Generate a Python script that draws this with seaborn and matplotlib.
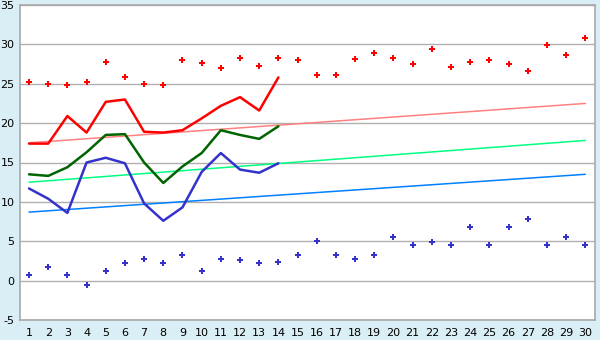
import numpy as np
import pandas as pd
import matplotlib
matplotlib.use("Agg")
import matplotlib.pyplot as plt
import seaborn as sns

# ---- data ----
days = list(range(1, 31))
record_high = [25.2, 25.0, 24.9, 25.2, 27.8, 25.8, 25.0, 24.9, 28.0, 27.6,
               27.0, 28.3, 27.3, 28.3, 28.0, 26.1, 26.1, 28.1, 28.9, 28.3,
               27.5, 29.4, 27.1, 27.8, 28.0, 27.5, 26.6, 29.9, 28.7, 30.8]
record_low = [0.7, 1.7, 0.7, -0.6, 1.2, 2.2, 2.8, 2.2, 3.3, 1.2,
              2.8, 2.6, 2.2, 2.4, 3.3, 5.0, 3.3, 2.8, 3.3, 5.6,
              4.5, 4.9, 4.5, 6.8, 4.5, 6.8, 7.8, 4.5, 5.6, 4.5]
obs_days = list(range(1, 15))
obs_max = [17.4, 17.4, 20.9, 18.8, 22.7, 23.0, 18.9, 18.8, 19.1, 20.6,
           22.2, 23.3, 21.6, 25.8]
obs_mean = [13.5, 13.3, 14.4, 16.3, 18.5, 18.6, 15.0, 12.4, 14.5, 16.2,
            19.1, 18.5, 18.0, 19.6]
obs_min = [11.7, 10.4, 8.6, 15.0, 15.6, 14.9, 9.8, 7.6, 9.3, 13.8,
           16.2, 14.1, 13.7, 14.9]
trend_days = [1, 30]
trend_max = [17.5, 22.5]
trend_mean = [12.5, 17.8]
trend_min = [8.7, 13.5]
y_ticks = [-5, 0, 5, 10, 15, 20, 25, 30, 35]

sns.set_theme(style="white")
plt.rcParams['font.family'] = ['DejaVu Sans']

fig = plt.figure(figsize=(6, 3.4), dpi=100, facecolor="#DAEEF5")
ax = fig.add_axes([20/600, 1-320/340, (595.3-20)/600, 315/340])
ax.set_facecolor("white")

trend = pd.DataFrame({"day": trend_days, "tmax": trend_max,
                      "tmean": trend_mean, "tmin": trend_min})
sns.lineplot(data=trend, x="day", y="tmax", color="#FF8080", lw=1.1, ax=ax)
sns.lineplot(data=trend, x="day", y="tmean", color="#00FF80", lw=1.1, ax=ax)
sns.lineplot(data=trend, x="day", y="tmin", color="#0080FF", lw=1.1, ax=ax)

obs = pd.DataFrame({"day": obs_days, "max": obs_max, "mean": obs_mean, "min": obs_min})
sns.lineplot(data=obs, x="day", y="max", color="#FF0000", lw=1.8, ax=ax)
sns.lineplot(data=obs, x="day", y="mean", color="#006400", lw=1.8, ax=ax)
sns.lineplot(data=obs, x="day", y="min", color="#3333CC", lw=1.8, ax=ax)

rec = pd.DataFrame({"day": days, "hi": record_high, "lo": record_low})
sns.scatterplot(data=rec, x="day", y="hi", color="#FF0000", marker="P",
                s=18, linewidth=0, ax=ax, zorder=5)
sns.scatterplot(data=rec, x="day", y="lo", color="#3333CC", marker="P",
                s=18, linewidth=0, ax=ax, zorder=5)

ax.set_xlim(0.53, 30.52)
ax.set_ylim(-5, 35)
ax.set_xticks(days)
ax.set_xticklabels([str(d) for d in days])
ax.set_yticks(y_ticks)
ax.set_yticklabels([str(v) for v in y_ticks])
ax.yaxis.grid(True, color="#B0B0B0", lw=1)
ax.xaxis.grid(False)
ax.set_axisbelow(True)
ax.set_xlabel("")
ax.set_ylabel("")
for s in ax.spines.values():
    s.set_color("#A8A8A8")
    s.set_linewidth(1.2)
ax.tick_params(axis="both", which="both", direction="out", length=4, width=1,
               color="#444444", labelsize=8, labelcolor="#000000", pad=2)
ax.tick_params(axis="y", length=3, pad=1)

fig.savefig("out.png", dpi=100, facecolor=fig.get_facecolor())
